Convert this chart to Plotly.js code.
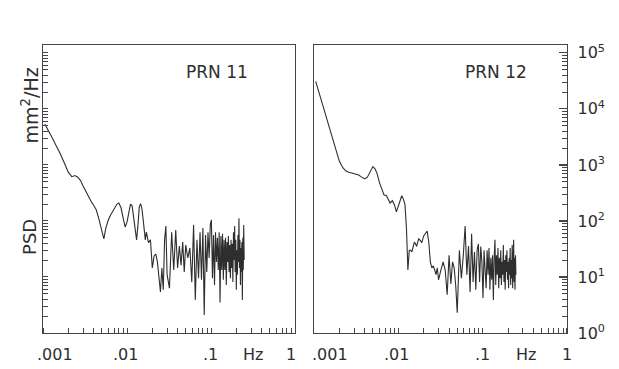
<!DOCTYPE html>
<html><head><meta charset="utf-8">
<script src="https://cdn.plot.ly/plotly-3.0.1.min.js"></script>
<style>html,body{margin:0;padding:0;background:#fff}#chart{width:619px;height:369px}</style>
</head><body><div id="chart"></div>
<script>
// Frequency (Hz), shared by both satellites
const freq = [0.00105,0.0012,0.0013,0.0014,0.0015,0.0016,0.0018,0.002,0.0022,0.0024,0.0026,0.0028,0.003,0.0032,0.0034,0.0036,0.0038,0.004,0.0043,0.0046,0.005,0.0053,0.0056,0.006,0.0064,0.0068,0.0072,0.0076,0.008,0.0085,0.009,0.0095,0.010,0.0105,0.011,0.0115,0.012,0.0125,0.013,0.0135,0.014,0.0145,0.015,0.0155,0.016,0.0165,0.017,0.0175,0.018,
0.019,0.020,0.021,0.022,0.023,0.024,0.025,0.026,0.027,0.028,0.029,0.030,
0.032,0.034,0.036,0.038,0.040,0.042,0.044,0.046,0.048,0.050,
0.053,0.056,0.059,0.062,0.065,0.068,0.071,0.074,0.077,0.080,0.083,0.086,0.089,0.092,0.095,0.098,
0.101,0.104,0.107,0.110,0.113,0.116,0.119,0.122,0.125,0.128,0.131,0.134,0.137,0.140,0.143,0.146,0.149,0.152,0.155,0.158,0.161,0.164,0.167,0.170,0.173,0.176,0.179,0.182,0.185,0.188,0.191,0.194,0.197,0.200,0.203,0.206,0.209,0.212,0.215,0.218,0.221,0.224,0.227,0.230,0.233,0.236,0.239,0.242,0.245,0.248];

// PSD (mm^2/Hz), PRN 11
const psd11 = [5370,3800,2950,2370,1950,1600,1070,741,617,646,603,525,422,347,285,245,214,190,158,112,69,48,75,105,129,148,170,200,209,170,112,78,95,145,200,186,112,63,46,85,178,204,170,112,69,46,63,46,41,
46,14.5,23.7,25.7,18.6,9.5,5.4,14.5,5.9,46,81,11,
6.3,63,13.3,69,14.5,35.5,16.2,42,12.3,37,
21.9,33,8.1,85,3.9,46,9.5,63,8.9,75,2.1,56,12.3,63,21.9,85,
105,9.5,56,7.2,63,18.6,50,13.3,63,3.5,54,13.3,59,8.9,46,13.3,50,7.2,42,18.6,54,12.3,37,9.5,46,14.5,39,8.1,63,20,81,12.3,46,5.9,30,11,56,18.6,112,14.5,46,7.2,33,12.3,42,3.9,50,13.3,85,20];

// PSD (mm^2/Hz), PRN 12
const psd12 = [30900,15500,10200,7080,4790,3470,1900,1170,891,776,741,724,708,692,661,617,589,562,603,741,933,851,708,479,355,288,288,237,209,229,195,145,186,237,282,245,195,75,13.3,30,30,28,35.5,42,39,35,42,48,46,
41,54,59,66,42,18.6,14.5,15.8,13.3,11,14.5,8.9,
13.3,18.6,13.3,4.8,24.5,7.5,18.6,14.5,6.9,2.3,
30,9.5,24.5,81,11,35.5,5.4,59,8.1,28,5.9,30,39,8.1,35,18.6,
4.2,30,13.3,6.3,30,11,33,5.9,21.9,8.9,24.5,3.9,21.9,46,7.2,24.5,11,33,6.3,21.9,9.5,30,7.2,18.6,11,37,8.1,20,5.9,24.5,12.3,30,8.9,18.6,6.3,21.9,11,33,7.2,20,9.5,37,6.3,18.6,46,8.1,21.9,5.9,24.5,11];

const panelNames = ['PRN 11', 'PRN 12'];
const xTicks = [0.001,0.002,0.003,0.004,0.005,0.006,0.007,0.008,0.009,0.01,0.02,0.03,0.04,0.05,0.06,0.07,0.08,0.09,0.1,0.2,0.3,0.4,0.5,0.6,0.7,0.8,0.9,1];
const xLabels = ['.001', '.01', '.1', 'Hz', '1'];
const yMajor = [1, 10, 100, 1000, 10000, 100000];
const yMajorText = ['10<sup>0</sup>','10<sup>1</sup>','10<sup>2</sup>','10<sup>3</sup>','10<sup>4</sup>','10<sup>5</sup>'];
const yMinor = [2,3,4,5,6,7,8,9,20,30,40,50,60,70,80,90,200,300,400,500,600,700,800,900,2000,3000,4000,5000,6000,7000,8000,9000,20000,30000,40000,50000,60000,70000,80000,90000];
const yAll = [1].concat(yMinor.slice(0,8), [10], yMinor.slice(8,16), [100], yMinor.slice(16,24), [1000], yMinor.slice(24,32), [10000], yMinor.slice(32,40), [100000]);

const ink = '#2e2e2e';
const frame = '#444444';
const font = 'DejaVu Sans, sans-serif';

const traces = [
  {x: freq, y: psd11, xaxis: 'x', yaxis: 'y', type: 'scatter', mode: 'lines',
   line: {color: ink, width: 1.1}, hoverinfo: 'skip'},
  {x: freq, y: psd12, xaxis: 'x2', yaxis: 'y2', type: 'scatter', mode: 'lines',
   line: {color: ink, width: 1.1}, hoverinfo: 'skip'}
];

function xAxis(domain, anchor) {
  return {domain: domain, anchor: anchor, type: 'log', range: [-3, 0],
    showgrid: false, zeroline: false, showline: true, mirror: true,
    linecolor: frame, linewidth: 1.3,
    tickmode: 'array', tickvals: [], ticks: '', showticklabels: false,
    minor: {tickmode: 'array', tickvals: xTicks, ticks: 'inside', ticklen: 5, tickwidth: 1, tickcolor: frame, showgrid: false}};
}
function yLeft() {
  return {domain: [0, 1], anchor: 'x', side: 'left', type: 'log', range: [0, 5.14],
    showgrid: false, zeroline: false, showline: true, mirror: true,
    linecolor: frame, linewidth: 1.3,
    tickmode: 'array', tickvals: [], ticks: '', showticklabels: false,
    minor: {tickmode: 'array', tickvals: yAll, ticks: 'inside', ticklen: 5, tickwidth: 1, tickcolor: frame, showgrid: false}};
}
function yRight() {
  return {domain: [0, 1], anchor: 'x2', side: 'right', type: 'log', range: [0, 5.14],
    showgrid: false, zeroline: false, showline: true, mirror: true,
    linecolor: frame, linewidth: 1.3,
    tickmode: 'array', tickvals: yMajor, ticktext: yMajorText,
    ticks: 'inside', ticklen: 8, tickwidth: 1.2, tickcolor: frame, showticklabels: true,
    ticklabelstandoff: 6,
    tickfont: {family: font, size: 16, color: ink},
    minor: {tickmode: 'array', tickvals: yMinor, ticks: 'inside', ticklen: 5, tickwidth: 1, tickcolor: frame, showgrid: false}};
}

const ann = [];
const xLabPos = [[-2.86, -2.024, -1.012, -0.5, -0.05], [-2.81, -2.026, -1.005, -0.482, 0]];
['x', 'x2'].forEach((xr, p) => {
  xLabels.forEach((t, i) => {
    ann.push({xref: xr, yref: 'paper', x: xLabPos[p][i], y: -0.076, text: t, showarrow: false,
      xanchor: 'center', yanchor: 'middle', font: {family: font, size: 16, color: ink}});
  });
});
ann.push({xref: 'paper', yref: 'paper', x: 0.333, y: 0.905, text: panelNames[0], showarrow: false,
  xanchor: 'center', yanchor: 'middle', font: {family: font, size: 17, color: ink}});
ann.push({xref: 'paper', yref: 'paper', x: 0.864, y: 0.905, text: panelNames[1], showarrow: false,
  xanchor: 'center', yanchor: 'middle', font: {family: font, size: 17, color: ink}});
ann.push({xref: 'paper', yref: 'paper', x: -0.023, y: 0.79, text: 'mm<sup>2</sup>/Hz', textangle: -90, showarrow: false,
  xanchor: 'center', yanchor: 'middle', font: {family: font, size: 19, color: ink}});
ann.push({xref: 'paper', yref: 'paper', x: -0.027, y: 0.333, text: 'PSD', textangle: -90, showarrow: false,
  xanchor: 'center', yanchor: 'middle', font: {family: font, size: 18, color: ink}});

const layout = {
  width: 619, height: 369,
  margin: {l: 43, r: 52, t: 45, b: 36, pad: 0},
  paper_bgcolor: '#ffffff', plot_bgcolor: '#ffffff',
  showlegend: false,
  xaxis: xAxis([0, 0.481], 'y'),
  xaxis2: xAxis([0.517, 1], 'y2'),
  yaxis: yLeft(),
  yaxis2: yRight(),
  annotations: ann
};

Plotly.newPlot('chart', traces, layout, {displayModeBar: false, staticPlot: true});
</script>
</body></html>
